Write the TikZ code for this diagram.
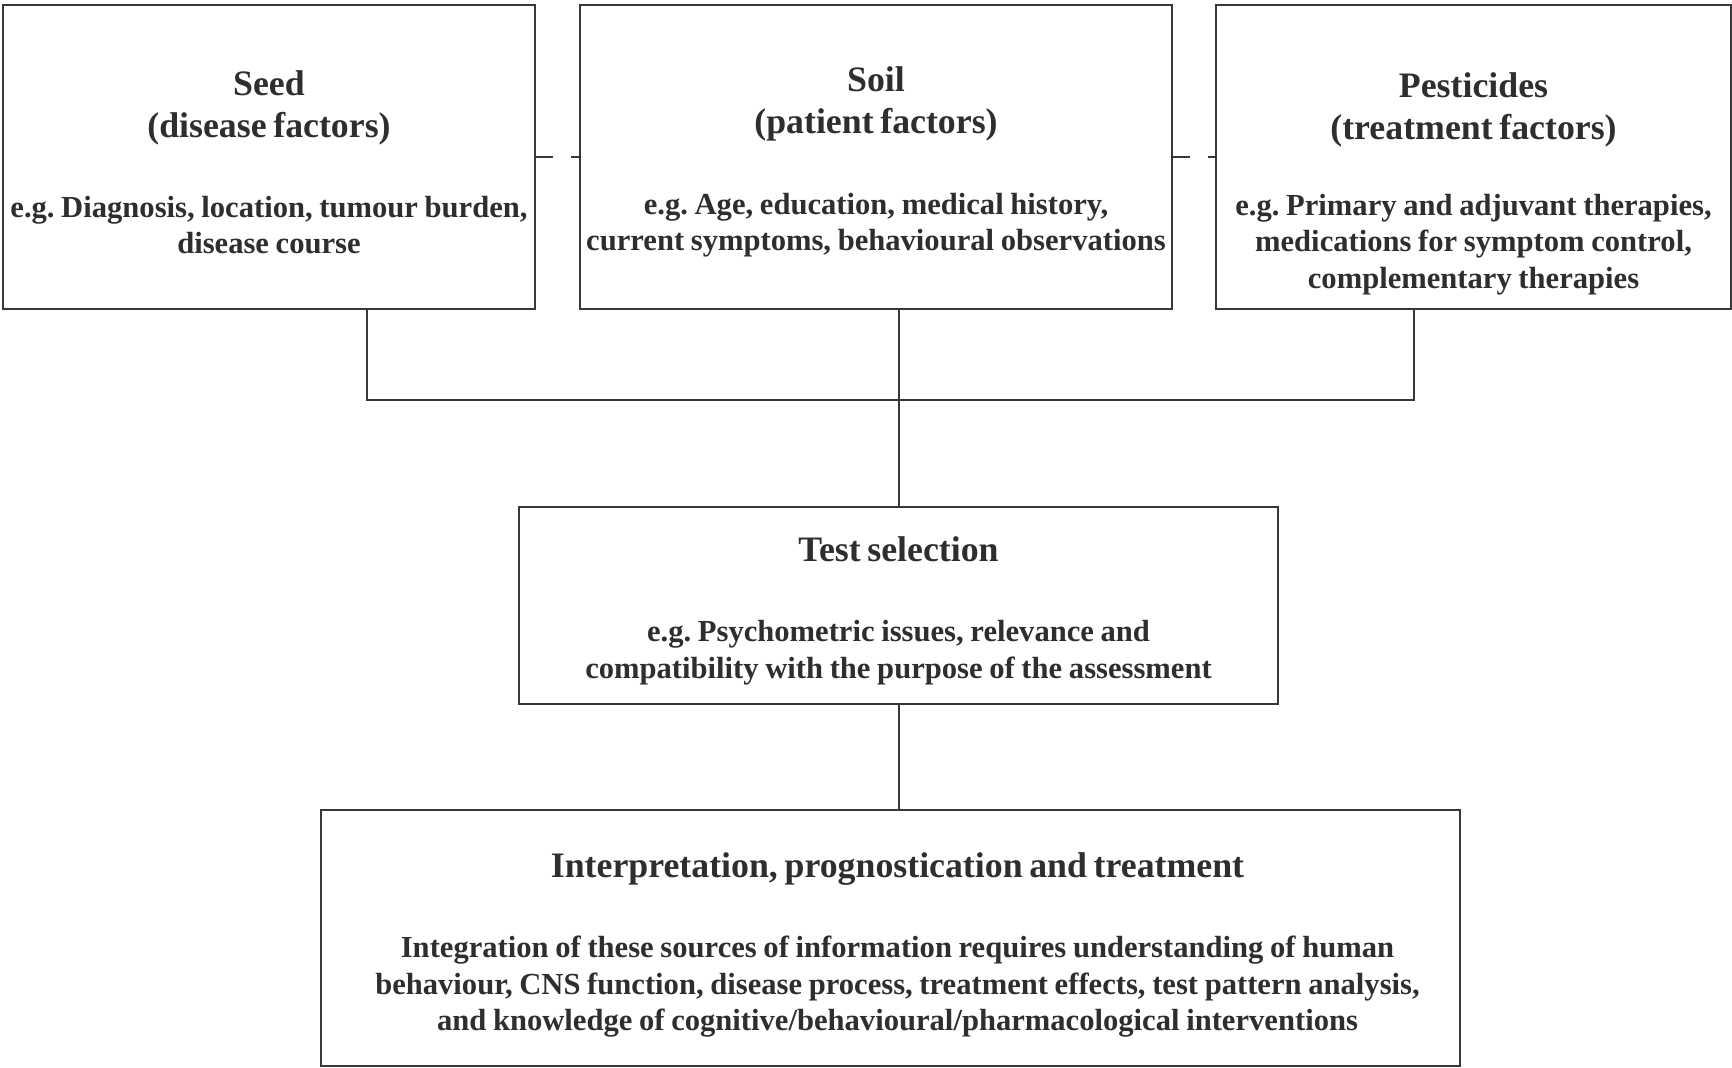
\documentclass[tikz,border=0pt]{standalone}
\usepackage{fontspec}
\setmainfont{Liberation Serif}
\usetikzlibrary{positioning}
\frenchspacing

\definecolor{boxgray}{HTML}{383838}
\definecolor{textgray}{HTML}{2E2E2E}

\newcommand{\headsize}{\fontsize{17.9}{21}\selectfont}
\newcommand{\bodysize}{\fontsize{15.3}{18.25}\selectfont}

\tikzset{
	factorbox/.style = {draw = boxgray, line width = 1pt, inner sep = 0pt},
	boxtext/.style = {anchor = north, align = center, inner sep = 0pt, text width = 600pt, text = textgray, font = \bfseries},
	link/.style = {draw = boxgray, line width = 1pt},
}

\begin{document}
\begin{tikzpicture}[x = 0.5pt, y = -0.5pt]

	\useasboundingbox (0, 0) rectangle (1732, 1068);

	% Three groups of factors
	
	\node [factorbox, minimum width = 266pt, minimum height = 152pt] (seed) at (269, 157.4) {};
	\node [factorbox, minimum width = 296pt, minimum height = 152pt] (soil) at (876, 157.4) {};
	\node [factorbox, minimum width = 257.5pt, minimum height = 152pt] (pest) at (1473.5, 157.4) {};

	\node [boxtext, yshift = -33pt] (seedtext) at (seed.north) {{\headsize Seed\\(disease factors)\par}\vspace{21.5pt}{\bodysize e.g. Diagnosis, location, tumour burden,\\disease course\par}};
	\node [boxtext, yshift = -31pt] (soiltext) at (soil.north) {{\headsize Soil\\(patient factors)\par}\vspace{22pt}{\bodysize e.g. Age, education, medical history,\\current symptoms, behavioural observations\par}};
	\node [boxtext, yshift = -34pt] (pesttext) at (pest.north) {{\headsize Pesticides\\(treatment factors)\par}\vspace{19.5pt}{\bodysize e.g. Primary and adjuvant therapies,\\medications for symptom control,\\complementary therapies\par}};

	% Test selection and outcome
	
	\node [factorbox, minimum width = 379.5pt, minimum height = 98.5pt] (test) at (898.5, 605.5) {};
	\node [factorbox, minimum width = 569.5pt, minimum height = 128pt] (interp) at (890.5, 938) {};

	\node [boxtext, yshift = -15pt] (testtext) at (test.north) {{\headsize Test selection\par}\vspace{22pt}{\bodysize e.g. Psychometric issues, relevance and\\compatibility with the purpose of the assessment\par}};
	\node [boxtext, yshift = -21.5pt, xshift = 3.5pt] (interptext) at (interp.north) {{\headsize Interpretation, prognostication and treatment\par}\vspace{22pt}{\bodysize Integration of these sources of information requires understanding of human\\behaviour, CNS function, disease process, treatment effects, test pattern analysis,\\and knowledge of cognitive/behavioural/pharmacological interventions\par}};

	% Connectors
	
	\coordinate (seedstem) at (366.7, 400);
	\coordinate (peststem) at (1414, 400);

	\begin{scope}[link]
	
		\draw [dash pattern = on 8.5pt off 9pt] (seed.east) -- (soil.west);
		\draw [dash pattern = on 8.5pt off 9pt] (soil.east) -- (pest.west);

		\draw (seedstem |- seed.south) -- (seedstem) -- (peststem) -- (peststem |- pest.south);
		\draw (test.north |- soil.south) -- (test.north);
		\draw (test.south) -- (test.south |- interp.north);

	\end{scope}

\end{tikzpicture}
\end{document}
